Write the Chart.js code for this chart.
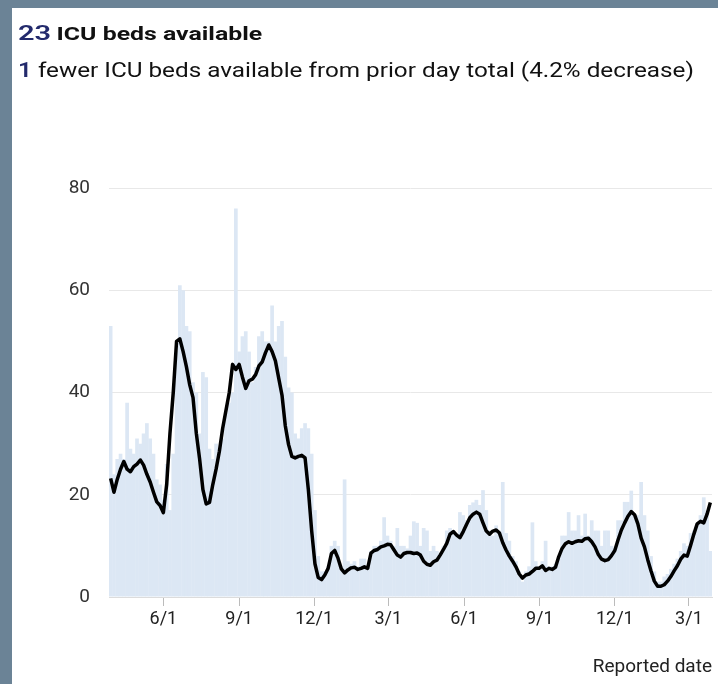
<!DOCTYPE html>
<html>
<head>
<meta charset="utf-8">
<script src="https://cdn.jsdelivr.net/npm/chart.js@4.4.1/dist/chart.umd.min.js"></script>
<style>
  html, body { margin: 0; padding: 0; }
  body { width: 718px; height: 684px; background: #6b8396; position: relative; overflow: hidden; font-family: Roboto, "Noto Sans", sans-serif; }
  .card { position: absolute; left: 12px; top: 8px; right: 0; bottom: 0; background: #fff; }
  .head { position: absolute; left: 18px; line-height: 1; white-space: nowrap; color: #111; z-index: 2; transform-origin: 0 0; }
  .num { color: #232a6c; font-weight: 600; }
  #title { top: 23px; transform: scaleX(1.38); }
  #title .num { font-size: 21px; }
  #title .txt { font-size: 18px; font-weight: bold; }
  #sub { top: 60px; font-size: 20px; transform: scaleX(1.214); }
  #wrap { position: absolute; left: 0; top: 0; width: 718px; height: 684px; z-index: 1; }
</style>
</head>
<body>
<div class="card"></div>
<div class="head" id="title"><span class="num">23</span> <span class="txt">ICU beds available</span></div>
<div class="head" id="sub"><span class="num">1</span> fewer ICU beds available from prior day total (4.2% decrease)</div>
<div id="wrap"><canvas id="chart"></canvas></div>

<script>
// one value every 4 days, day 0 = 3/29/2020
const dayStep = 4;

const tickDays = [64, 156, 247, 337, 429, 521, 612, 702];
const tickLabels = ['6/1', '9/1', '12/1', '3/1', '6/1', '9/1', '12/1', '3/1'];

// daily ICU beds available (light blue bars)
const dailyBeds = [
    53, 24, 27, 28, 27, 38, 29, 28, 31, 30,
    32, 34, 31, 28, 23, 22, 19, 26, 17, 28,
    48, 61, 60, 53, 52, 42, 40, 32, 44, 43,
    29, 27, 30, 29, 31, 36, 38, 40, 76, 48,
    51, 52, 48, 42, 45, 51, 52, 50, 50, 57,
    50, 53, 54, 47, 41, 40, 32, 31, 33, 34,
    33, 28, 17, 8, 5, 5, 6, 10, 11, 10,
    6, 23, 7, 6.5, 7, 6, 7.5, 7.5, 6, 9,
    10, 10, 11, 15.6, 12, 11, 10, 13.5, 10, 10,
    9.5, 12, 14.8, 14.5, 10, 13.5, 13, 9, 10, 9,
    8.5, 10, 13, 13.5, 13, 12, 16.6, 16, 15, 18,
    18.5, 19, 18, 20.9, 17, 13, 12, 14, 13, 22.5,
    12.5, 11, 8, 7, 5, 3, 5, 6, 14.6, 7,
    6, 7, 11, 6, 6, 6.5, 8, 12, 12, 16.6,
    13, 13, 16, 12, 16.3, 12, 15, 13, 13, 10,
    13, 13, 10, 9.5, 15, 15, 18.6, 18.6, 20.8, 16,
    16, 22.5, 16, 13, 8, 5, 3, 3, 4, 4.5,
    5.5, 6.5, 7.5, 9, 10.5, 10, 12.5, 13, 14, 16,
    19.5, 17, 9
];

// 7-day average (black line)
const avgBeds = [
    23.2, 20.5, 23, 25, 26.5, 25, 24.5, 25.5, 26, 26.8,
    25.8, 24, 22.5, 20.5, 18.6, 17.9, 16.5, 22, 32, 40,
    50, 50.5, 48, 45, 41.5, 39, 32, 27, 21, 18.2,
    18.5, 22, 25, 28.5, 33, 36.5, 40, 45.5, 44.5, 45.5,
    43, 40.8, 42.3, 42.6, 43.5, 45.2, 46, 47.8, 49.3, 48,
    46.2, 42.8, 39.5, 33.5, 29.8, 27.5, 27.2, 27.5, 27.7, 27.2,
    21, 13, 6.5, 3.8, 3.4, 4.3, 5.6, 8.5, 9.1, 7.6,
    5.5, 4.7, 5.3, 5.7, 5.8, 5.4, 5.6, 5.9, 5.6, 8.6,
    9.1, 9.3, 9.8, 10, 10.3, 10.2, 9.2, 8.2, 7.8, 8.5,
    8.7, 8.7, 8.5, 8.6, 8.2, 7, 6.4, 6.2, 6.9, 7.2,
    8.2, 9.3, 10.5, 12.3, 12.8, 12.1, 11.6, 12.8, 14.2, 15.5,
    16.2, 16.6, 16.2, 14.5, 12.9, 12.3, 12.9, 13.1, 12.5, 10.6,
    9.2, 8, 7, 5.9, 4.5, 3.7, 4.3, 4.5, 5, 5.6,
    5.6, 6.1, 5.2, 5.6, 5.4, 5.8, 7.9, 9.5, 10.4, 10.8,
    10.5, 10.8, 11, 10.9, 11.4, 11.5, 10.8, 9.8, 8.3, 7.4,
    7.1, 7.3, 8.1, 9.1, 11.2, 13.1, 14.5, 15.8, 16.7, 16.1,
    14.3, 11.5, 9.8, 7.3, 5.1, 3.1, 2.1, 2.1, 2.4, 3.1,
    4, 5.1, 6.1, 7.4, 8.2, 8, 10.1, 12.3, 14.3, 14.8,
    14.5, 16.2, 18.5
];

const barPoints = dailyBeds.map((v, i) => ({ x: i * dayStep, y: v }));
const linePoints = avgBeds.map((v, i) => ({ x: i * dayStep, y: v }));

const ctx = document.getElementById('chart').getContext('2d');
new Chart(ctx, {
    type: 'bar',
    data: {
        datasets: [
            {
                type: 'line',
                label: '7-day average',
                data: linePoints,
                borderColor: '#000',
                borderWidth: 3.5,
                borderJoinStyle: 'round',
                pointRadius: 0,
                tension: 0,
                order: 0
            },
            {
                type: 'bar',
                label: 'ICU beds available',
                data: barPoints,
                backgroundColor: '#dce7f4',
                borderWidth: 0,
                barPercentage: 1.12,
                categoryPercentage: 1,
                order: 1
            }
        ]
    },
    options: {
        responsive: true,
        maintainAspectRatio: false,
        animation: false,
        layout: { padding: { left: 12, top: 188, right: 6, bottom: 0 } },
        plugins: { legend: { display: false }, tooltip: { enabled: false } },
        scales: {
            x: {
                type: 'linear',
                offset: false,
                min: -2,
                max: 730,
                afterFit: s => { s.height = 87; },
                afterBuildTicks: s => { s.ticks = tickDays.map(v => ({ value: v })); },
                grid: { offset: false, drawOnChartArea: false, tickLength: 9, color: '#bbb' },
                border: { color: '#dcdcdc' },
                ticks: {
                    autoSkip: false,
                    maxRotation: 0,
                    padding: 3,
                    color: '#222',
                    font: { family: 'Roboto', size: 18 },
                    callback: v => tickLabels[tickDays.indexOf(v)]
                },
                title: {
                    display: true,
                    text: 'Reported date',
                    align: 'end',
                    color: '#222',
                    font: { family: 'Roboto', size: 19 },
                    padding: { top: 0, bottom: 5 }
                }
            },
            y: {
                min: 0,
                max: 80,
                afterFit: s => { s.width = 97; },
                grid: { color: '#e8e8e8', drawTicks: false },
                border: { display: false },
                ticks: {
                    stepSize: 20,
                    padding: 19,
                    color: '#333',
                    font: { family: 'Roboto', size: 19 }
                }
            }
        }
    }
});
</script>
</body>
</html>
